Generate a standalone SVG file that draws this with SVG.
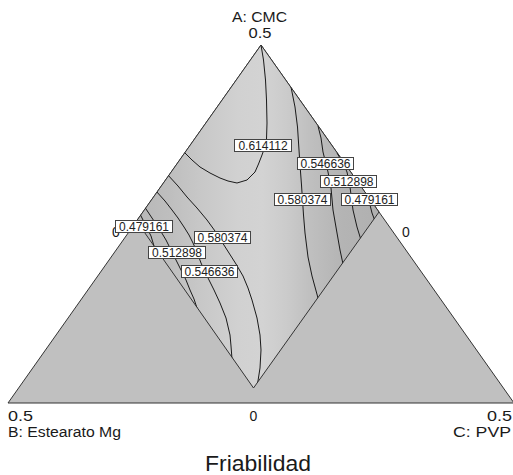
<svg xmlns="http://www.w3.org/2000/svg" width="513" height="475" viewBox="0 0 513 475">
<defs>
<linearGradient id="shade" gradientUnits="userSpaceOnUse" x1="136" y1="0" x2="379" y2="0">
<stop offset="0" stop-color="#b8b8b8"/>
<stop offset="0.14" stop-color="#bebebe"/>
<stop offset="0.27" stop-color="#c8c8c8"/>
<stop offset="0.42" stop-color="#d1d1d1"/>
<stop offset="0.52" stop-color="#d3d3d3"/>
<stop offset="0.62" stop-color="#cbcbcb"/>
<stop offset="0.72" stop-color="#bfbfbf"/>
<stop offset="0.85" stop-color="#b4b4b4"/>
<stop offset="1" stop-color="#b0b0b0"/>
</linearGradient>
<clipPath id="region"><polygon points="261,45 379,212 253.5,388 136.5,221"/></clipPath>
<style>
.tri{fill:#c0c0c0;stroke:#333;stroke-width:1}
.reg{fill:url(#shade);stroke:#333;stroke-width:1}
.ct{fill:none;stroke:#1a1a1a;stroke-width:1;stroke-linejoin:round}
.lb rect{fill:#fff;stroke:#444;stroke-width:1}
.lb text{font-family:"Liberation Sans",Arial,sans-serif;font-size:12px;fill:#222;text-anchor:middle}
.ax{font-family:"Liberation Sans",Arial,sans-serif;font-size:14px;fill:#1a1a1a}
</style>
</defs>
<rect width="513" height="475" fill="#fff"/>
<g id="triangle"><polygon class="tri" points="261,45 8,403 514,403"/></g>
<g id="region-shade"><polygon class="reg" points="261,45 379,212 253.5,388 136.5,221"/></g>
<g id="contours" clip-path="url(#region)">
<polyline class="ct" points="261,45 263.5,60 265.5,80 266.5,100 267,123 266.5,139 264.5,148 262,155 258.5,164 255,172 247,180 237,183 228,181 220,178 210,173 200,167 192,160 184,152"/>
<polyline class="ct" points="291,87 295,107 297.5,127 299,150 300,165 301.5,185 302.5,200 303.5,215 305,233 308,257 312,276 318,298 319,301"/>
<polyline class="ct" points="318,126 321,138 323,152 326,164 328,172 331,188 333,210 337,233 340,250 343,264 344,267"/>
<polyline class="ct" points="337,153 343,163 347,172 350,187 353,210 357,227 361,240"/>
<polyline class="ct" points="366,193 370,205 372,213 375,221"/>
<polyline class="ct" points="167,174 178,186 187,197 197,208 207,220 215,231 222,242 229,253 236,264 243,276 248,288 252,300 257,318 260,335 261,350 260,368 257.5,384 257,387"/>
<polyline class="ct" points="156,191 165,201 172,210 178,218 184,227 189,235 193,243 197,252 201,263 208,278 214,290 220,303 226,318 230,335 231,346 232,359"/>
<polyline class="ct" points="144,206 152,218 160,230 166,240 171,250 176,260 181,270 186,280 190,290 194,299 197,308"/>
<polyline class="ct" points="140,214 146,226 151,236 154,246"/>
</g>
<g id="axis-labels">
<text class="ax" x="232" y="22" textLength="55" lengthAdjust="spacingAndGlyphs">A: CMC</text>
<text class="ax" x="248.5" y="38" textLength="23" lengthAdjust="spacingAndGlyphs">0.5</text>
<text class="ax" x="112" y="237">0</text>
<text class="ax" x="402" y="237">0</text>
<text class="ax" x="8" y="421" textLength="25" lengthAdjust="spacingAndGlyphs">0.5</text>
<text class="ax" x="249.5" y="421">0</text>
<text class="ax" x="487" y="421" textLength="25" lengthAdjust="spacingAndGlyphs">0.5</text>
<text class="ax" x="8" y="437" textLength="113" lengthAdjust="spacingAndGlyphs">B: Estearato Mg</text>
<text class="ax" x="453" y="437" textLength="58" lengthAdjust="spacingAndGlyphs">C: PVP</text>
<text x="205" y="471" textLength="106" lengthAdjust="spacingAndGlyphs" font-family="'Liberation Sans',Arial,sans-serif" font-size="22" fill="#1a1a1a">Friabilidad</text>
</g>
<g id="contour-labels" class="lb">
<g id="lbl-0614112"><rect x="234.5" y="139.5" width="57" height="12"/><text x="263" y="149.5">0.614112</text></g>
<g id="lbl-r0546636"><rect x="297.5" y="157.5" width="56" height="12"/><text x="325.5" y="167.5">0.546636</text></g>
<g id="lbl-r0512898"><rect x="320.5" y="175.5" width="56" height="12"/><text x="348.5" y="185.5">0.512898</text></g>
<g id="lbl-r0580374"><rect x="274.5" y="193.5" width="56" height="12"/><text x="302.5" y="203.5">0.580374</text></g>
<g id="lbl-r0479161"><rect x="341.5" y="193.5" width="56" height="12"/><text x="369.5" y="203.5">0.479161</text></g>
<g id="lbl-l0479161"><rect x="115.5" y="220.5" width="57" height="12"/><text x="144" y="230.5">0.479161</text></g>
<g id="lbl-l0580374"><rect x="194.5" y="231.5" width="56" height="12"/><text x="222.5" y="241.5">0.580374</text></g>
<g id="lbl-l0512898"><rect x="148.5" y="246.5" width="57" height="12"/><text x="177" y="256.5">0.512898</text></g>
<g id="lbl-l0546636"><rect x="181.5" y="265.5" width="56" height="12"/><text x="209.5" y="275.5">0.546636</text></g>
</g>
</svg>
